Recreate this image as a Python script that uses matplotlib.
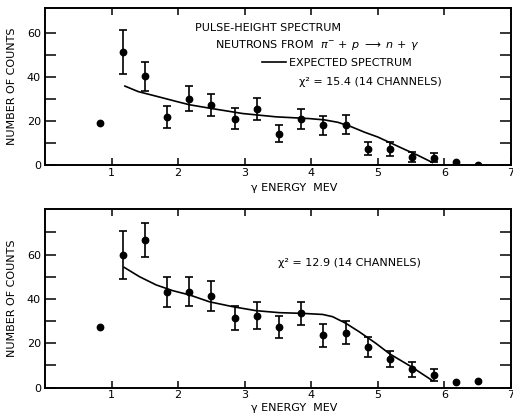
import matplotlib
matplotlib.use("Agg")
import matplotlib.pyplot as plt
from matplotlib.lines import Line2D

# channel centres (MeV), shared by both spectra
energy = [0.83, 1.17, 1.50, 1.83, 2.17, 2.50, 2.85, 3.18, 3.51,
          3.85, 4.18, 4.52, 4.85, 5.18, 5.51, 5.85, 6.18, 6.51]
# channels that carry error bars
fitted = slice(1, 16)

counts_a = [19.4, 51.5, 40.5, 22.0, 30.3, 27.4, 21.2, 25.5, 14.4,
            21.0, 18.2, 18.5, 7.4, 7.3, 3.5, 3.3, 1.4, 0.0]
err_a = [10.0, 6.6, 5.0, 5.7, 5.0, 4.6, 5.0, 4.0, 4.5, 4.4, 4.3,
         3.0, 3.2, 2.3, 2.1]
curve_a_x = [1.20, 1.40, 1.67, 2.00, 2.17, 2.50, 2.97, 3.47, 3.97,
             4.20, 4.40, 4.60, 4.80, 5.00, 5.20, 5.40, 5.60, 5.82]
curve_a_y = [36.0, 33.5, 31.4, 28.8, 27.5, 25.8, 23.5, 22.0, 21.2,
             20.6, 19.5, 17.5, 15.0, 12.8, 10.0, 7.2, 4.5, 1.2]

counts_b = [27.5, 59.8, 66.5, 43.2, 43.2, 41.2, 31.5, 32.4, 27.5,
            33.5, 23.7, 24.8, 18.2, 12.8, 8.3, 5.6, 2.7, 3.0]
err_b = [11.0, 7.8, 6.7, 6.6, 6.7, 5.4, 6.0, 4.9, 5.3, 5.2, 5.1,
         4.5, 3.7, 3.4, 2.8]
curve_b_x = [1.19, 1.42, 1.67, 1.92, 2.17, 2.47, 2.82, 3.17, 3.52,
             3.85, 4.17, 4.32, 4.52, 4.72, 4.97, 5.18, 5.50, 5.82]
curve_b_y = [54.2, 50.0, 46.3, 43.7, 41.8, 38.7, 36.5, 34.7, 33.8,
             33.5, 33.0, 32.0, 29.0, 25.2, 20.0, 15.2, 9.5, 3.2]

xticks = [1, 2, 3, 4, 5, 6, 7]

FS = 8

plt.rcParams["font.family"] = "DejaVu Sans"
plt.rcParams["font.size"] = FS

fig = plt.figure(figsize=(5.13, 4.17), dpi=100)
ax_a = fig.add_axes([0.0877, 0.604, 0.9083, 0.3765])
ax_b = fig.add_axes([0.0877, 0.0703, 0.9083, 0.4285])


def draw_panel(ax, counts, err, cx, cy, ytop, yminor_top):
    ax.plot(energy, counts, "o", color="black", ms=4.6)
    ax.errorbar(energy[fitted], counts[fitted], yerr=err, fmt="none",
                ecolor="black", elinewidth=1.2, capsize=2.9, capthick=1.2)
    ax.plot(cx, cy, color="black", lw=1.2)

    ax.set_xlim(0, 7)
    ax.set_ylim(0, ytop)
    ax.set_xticks(xticks)
    ax.set_yticks(range(0, 61, 20))
    ax.set_yticks(range(10, yminor_top + 1, 10), minor=True)
    ax.tick_params(axis="x", direction="in", length=5, width=1.1,
                   pad=2, top=True, labelsize=FS)
    ax.tick_params(axis="y", which="both", direction="in", length=8,
                   width=1.1, pad=3, right=True, labelsize=FS)
    for s in ax.spines.values():
        s.set_linewidth(1.4)

    ax.set_ylabel("NUMBER OF COUNTS", fontsize=FS)
    ax.yaxis.set_label_coords(-0.06, 0.5)
    ax.set_xlabel("γ ENERGY  MEV", fontsize=FS)
    ax.xaxis.label.set_va("center")


draw_panel(ax_a, counts_a, err_a, curve_a_x, curve_a_y, 71.5, 60)
ax_a.xaxis.set_label_coords(0.534, -0.146)

draw_panel(ax_b, counts_b, err_b, curve_b_x, curve_b_y, 80.5, 70)
ax_b.xaxis.set_label_coords(0.534, -0.114)

# annotations, upper spectrum
ax_a.text(0.322, 0.873, "PULSE-HEIGHT SPECTRUM", transform=ax_a.transAxes,
          va="center", ha="left")
ax_a.text(0.365, 0.764,
          r"NEUTRONS FROM  $\pi^{-}\,+\,p\ \longrightarrow\ n\,+\,\gamma$",
          transform=ax_a.transAxes, va="center", ha="left")
ax_a.legend(handles=[Line2D([], [], color="black", lw=1.2)],
            labels=["EXPECTED SPECTRUM"], frameon=False,
            loc="center left", bbox_to_anchor=(0.465, 0.65),
            handlelength=2.2, handletextpad=0.3, fontsize=FS,
            borderpad=0, borderaxespad=0)
ax_a.text(0.545, 0.529, "χ² = 15.4 (14 CHANNELS)", transform=ax_a.transAxes,
          va="center", ha="left")

# annotation, lower spectrum
ax_b.text(0.50, 0.698, "χ² = 12.9 (14 CHANNELS)", transform=ax_b.transAxes,
          va="center", ha="left")

fig.savefig("out.png", dpi=100)
